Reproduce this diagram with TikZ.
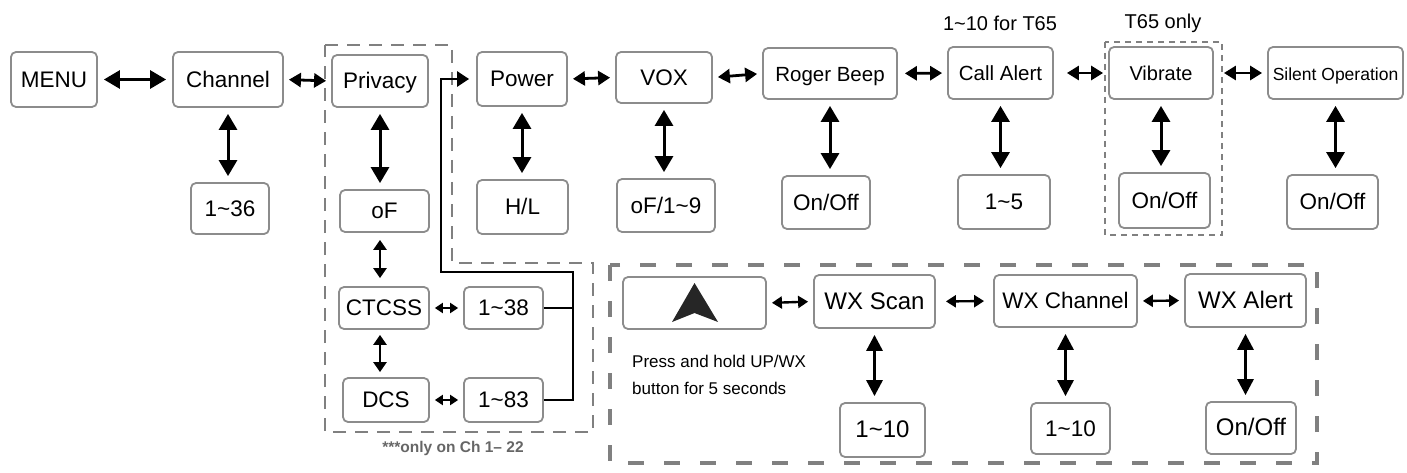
\documentclass[tikz,border=0pt]{standalone}
\usepackage{fontspec}
\setmainfont{Liberation Sans}
\usetikzlibrary{arrows.meta}
\newcommand{\setfs}[1]{\fontsize{#1}{#1}\selectfont}
\tikzset{
  menubox/.style={draw=black!45, line width=1.8pt, rounded corners=5pt, inner sep=0pt,
    text height=15.5pt, text depth=0pt, font=\setfs{22.5}},
  bigarr/.style={{Triangle[length=16pt,width=18pt]}-{Triangle[length=16pt,width=18pt]},
    line width=3pt, shorten <=6pt, shorten >=6pt},
  midarr/.style={{Triangle[length=12pt,width=14pt]}-{Triangle[length=12pt,width=14pt]},
    line width=2.8pt, shorten <=5pt, shorten >=5pt},
  smallarr/.style={{Triangle[length=8pt,width=10pt]}-{Triangle[length=8pt,width=10pt]},
    line width=2.4pt, shorten <=5pt, shorten >=5pt},
  wxarr/.style={{Triangle[length=10pt,width=12pt]}-{Triangle[length=10pt,width=12pt]},
    line width=2.4pt, shorten <=5pt, shorten >=5pt},
  busline/.style={line width=2.6pt, line join=miter},
  privframe/.style={draw=black!50, line width=2.5pt, dash pattern=on 13pt off 9pt},
  wxframe/.style={draw=black!50, line width=4pt, dash pattern=on 16pt off 20pt},
  vibframe/.style={draw=black!50, line width=2.5pt, dash pattern=on 6pt off 5pt},
}
\begin{document}
\begin{tikzpicture}[x=1pt,y=-1pt]
\useasboundingbox (0,0) rectangle (1407,473);

% frames
\draw[privframe] (325,45) -- (452,45) -- (452,263) -- (593,263) -- (593,432) -- (325,432) -- cycle;
\draw[wxframe] (610,265) rectangle (1317,463);
\draw[vibframe] (1105,42) rectangle (1222,235);

% main row
\node[menubox, minimum width=86pt, minimum height=55pt] (menu) at (54,79.5) {MENU};
\node[menubox, minimum width=110pt, minimum height=55pt] (chan) at (228,79.5) {Channel};
\node[menubox, minimum width=96pt, minimum height=52pt] (priv) at (380,81) {Privacy};
\node[menubox, minimum width=90pt, minimum height=54pt] (power) at (522,79) {Power};
\node[menubox, minimum width=96pt, minimum height=51pt] (vox) at (664,77.5) {VOX};
\node[menubox, minimum width=134pt, minimum height=51pt, font=\setfs{20.5}] (roger) at (830,73.5) {Roger Beep};
\node[menubox, minimum width=105pt, minimum height=52pt, font=\setfs{20.5}] (call) at (1000.5,73) {Call Alert};
\node[menubox, minimum width=104pt, minimum height=52pt, font=\setfs{20}] (vib) at (1161,73) {Vibrate};
\node[menubox, minimum width=135pt, minimum height=52pt, font=\setfs{17.5}] (silent) at (1335.5,73) {Silent Operation};

% settings
\node[menubox, minimum width=78pt, minimum height=51pt] (c36) at (230,208.5) {1\textasciitilde 36};
\node[menubox, minimum width=89pt, minimum height=42pt] (off) at (384.5,211) {oF};
\node[menubox, minimum width=91pt, minimum height=54pt] (hl) at (522.5,207) {H/L};
\node[menubox, minimum width=98pt, minimum height=53pt] (voxlv) at (666,205.5) {oF/1\textasciitilde 9};
\node[menubox, minimum width=88pt, minimum height=53pt] (rogeron) at (826,202.5) {On/Off};
\node[menubox, minimum width=92pt, minimum height=54pt] (callv) at (1004,202) {1\textasciitilde 5};
\node[menubox, minimum width=91pt, minimum height=55pt] (vibon) at (1164.5,200.5) {On/Off};
\node[menubox, minimum width=91pt, minimum height=54pt] (silon) at (1332.5,202) {On/Off};

% privacy codes
\node[menubox, minimum width=90pt, minimum height=42pt] (ctcss) at (384,308) {CTCSS};
\node[menubox, minimum width=79pt, minimum height=42pt] (c38) at (503.5,308) {1\textasciitilde 38};
\node[menubox, minimum width=86pt, minimum height=44pt] (dcs) at (386,400) {DCS};
\node[menubox, minimum width=79pt, minimum height=44pt] (c83) at (503.5,400) {1\textasciitilde 83};

% weather
\node[menubox, minimum width=143pt, minimum height=52pt] (up) at (694.5,303) {};
\fill[black!85] (up.center) ++(0,-20) -- ++(23.5,39) -- ++(-23.5,-9) -- ++(-22.5,9) -- cycle;
\node[menubox, minimum width=121pt, minimum height=53pt, font=\setfs{24}] (scan) at (874.5,301.5) {WX Scan};
\node[menubox, minimum width=143pt, minimum height=52pt] (wxch) at (1065.5,301) {WX Channel};
\node[menubox, minimum width=121pt, minimum height=53pt, font=\setfs{24}] (alert) at (1245.5,300.5) {WX Alert};
\node[menubox, minimum width=85pt, minimum height=54pt, font=\setfs{24}] (scanv) at (882.5,430) {1\textasciitilde 10};
\node[menubox, minimum width=79pt, minimum height=51pt] (wxchv) at (1070.5,428.5) {1\textasciitilde 10};
\node[menubox, minimum width=90pt, minimum height=52pt, font=\setfs{24}] (alerton) at (1251,428) {On/Off};

% notes
\node[font=\setfs{20}] (t65a) at (1000,23) {1\textasciitilde 10 for T65};
\node[font=\setfs{20}] (t65b) at (1163,23) {T65 only};
\node[font=\bfseries\setfs{15.5}, text=black!60] (ch22) at (453,448) {***only on Ch 1– 22};
\node[font=\fontsize{17}{27}\selectfont, align=left, anchor=west, inner sep=0pt] (hold) at (632,375) {Press and hold UP/WX\\button for 5 seconds};

% links
\draw[bigarr] (menu.east) -- (chan.west);
\draw[midarr] (chan.east) -- (priv.west);
\draw[midarr] (power.east) -- (vox.west);
\draw[midarr] (vox.east) -- (roger.west);
\draw[midarr, shorten <=7pt] (roger.east) -- (call.west);
\draw[midarr, shorten <=13pt] (call.east) -- (vib.west);
\draw[midarr, shorten <=10pt] (vib.east) -- (silent.west);

\draw[bigarr] (chan.south) -- (chan.south |- c36.north);
\draw[bigarr] (priv.south) -- (priv.south |- off.north);
\draw[bigarr] (power.south) -- (power.south |- hl.north);
\draw[bigarr] (vox.south) -- (vox.south |- voxlv.north);
\draw[bigarr] (roger.south) -- (roger.south |- rogeron.north);
\draw[bigarr] (call.south) -- (call.south |- callv.north);
\draw[bigarr] (vib.south) -- (vib.south |- vibon.north);
\draw[bigarr] (silent.south) -- (silent.south |- silon.north);

\draw[wxarr, line width=2.6pt, {Triangle[length=10pt,width=13pt]}-{Triangle[length=10pt,width=13pt]}, shorten <=7pt, shorten >=8pt] (priv.south |- off.south) -- (priv.south |- ctcss.north);
\draw[wxarr, line width=2.6pt, {Triangle[length=10pt,width=13pt]}-{Triangle[length=10pt,width=13pt]}] (priv.south |- ctcss.south) -- (priv.south |- dcs.north);
\draw[smallarr] (ctcss.east) -- (c38.west);
\draw[smallarr] (dcs.east) -- (c83.west);

\coordinate (bus) at (573,272);
\coordinate (turn) at (441,272);
\draw[busline] (c38.east) -- (c38.east -| bus);
\draw[busline, -{Triangle[length=12pt,width=15pt]}, shorten >=7pt] (c83.east) -| (bus) -- (turn) |- (power.west);

\draw[wxarr] (up.east) -- (scan.west);
\draw[wxarr, shorten <=10pt, shorten >=9pt] (scan.east) -- (wxch.west);
\draw[wxarr] (wxch.east) -- (alert.west);
\draw[bigarr, {Triangle[length=16pt,width=16pt]}-{Triangle[length=16pt,width=16pt]}] (scan.south) -- (scan.south |- scanv.north);
\draw[bigarr, {Triangle[length=16pt,width=16pt]}-{Triangle[length=16pt,width=16pt]}] (wxch.south) -- (wxch.south |- wxchv.north);
\draw[bigarr, {Triangle[length=16pt,width=16pt]}-{Triangle[length=16pt,width=16pt]}] (alert.south) -- (alert.south |- alerton.north);
\end{tikzpicture}
\end{document}
